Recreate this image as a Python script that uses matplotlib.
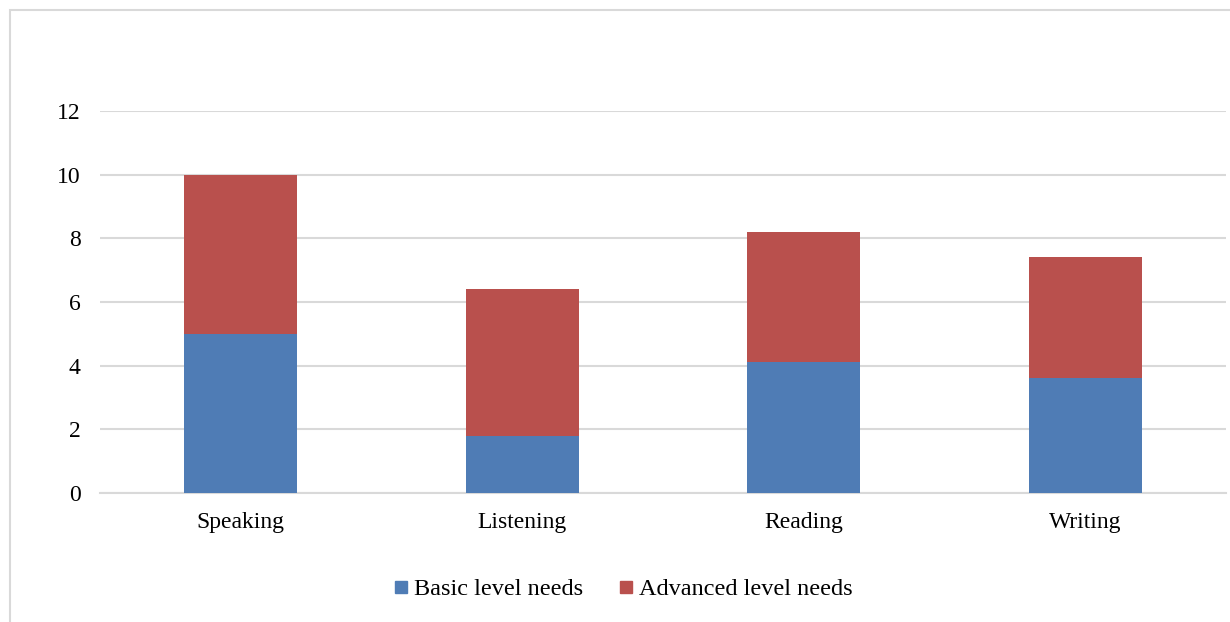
import matplotlib
matplotlib.use("Agg")
import matplotlib.pyplot as plt
from matplotlib.patches import Rectangle
from matplotlib.lines import Line2D

categories = ["Speaking", "Listening", "Reading", "Writing"]
basic_needs = [5.0, 1.8, 4.1, 3.6]
advanced_needs = [5.0, 4.6, 4.1, 3.8]
series_labels = ["Basic level needs", "Advanced level needs"]
y_ticks = [0, 2, 4, 6, 8, 10, 12]

BLUE = "#4F7CB5"
RED = "#B9504D"
GRID = "#D9D9D9"

plt.rcParams["font.family"] = ["Liberation Serif", "DejaVu Serif"]

W, H = 1230, 622
fig = plt.figure(figsize=(W / 100, H / 100), dpi=100)

# outer chart frame
fig.patches.append(Rectangle((10 / W, -0.05), 1.1, (H - 10) / H + 0.05,
                             transform=fig.transFigure, fill=False,
                             edgecolor=GRID, linewidth=1.5, zorder=0))

ax = fig.add_axes([100 / W, (H - 493) / H, (1226 - 100) / W, (493 - 111) / H])
x = range(len(categories))
ax.bar(x, basic_needs, width=0.4, color=BLUE, zorder=3, label=series_labels[0])
ax.bar(x, advanced_needs, width=0.4, bottom=basic_needs, color=RED, zorder=3,
       label=series_labels[1])

ax.set_xlim(-0.5, len(categories) - 0.5)
ax.set_ylim(0, 12)
ax.set_yticks(y_ticks)
ax.set_xticks(list(x))
ax.set_xticklabels(categories)
ax.tick_params(axis="both", length=0, labelsize=17, colors="black")
ax.tick_params(axis="y", pad=14)
ax.tick_params(axis="x", pad=14)
ax.grid(axis="y", color=GRID, linewidth=1.5, zorder=0)
for side in ["top", "right", "left"]:
    ax.spines[side].set_visible(False)
ax.spines["bottom"].set_color(GRID)
ax.spines["bottom"].set_linewidth(1.5)

handles = [Line2D([], [], marker="s", linestyle="none", markersize=9,
                  markerfacecolor=c, markeredgecolor=c) for c in (BLUE, RED)]
fig.legend(handles, series_labels, loc="center", bbox_to_anchor=(622 / W, 1 - 589 / H),
           ncol=2, frameon=False, fontsize=17.5, handletextpad=0.1,
           columnspacing=1.4, handlelength=0.8)

fig.savefig("out.png", dpi=100)
